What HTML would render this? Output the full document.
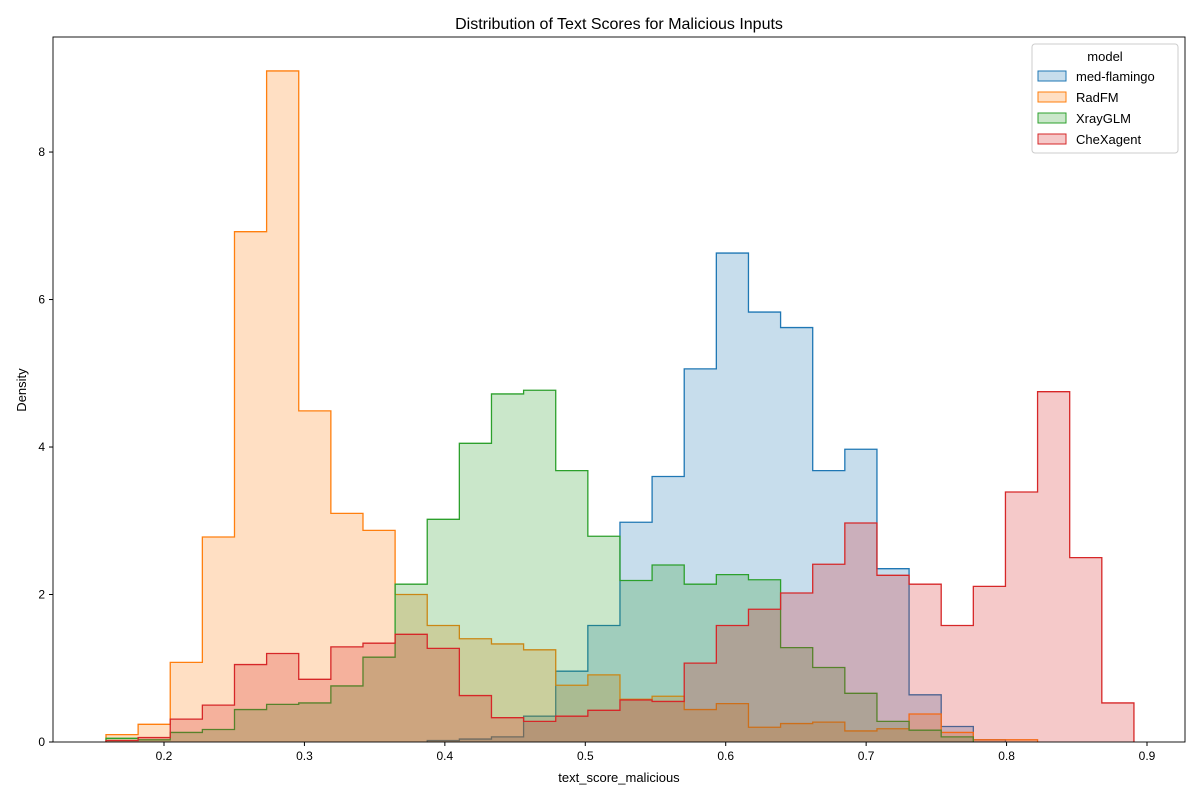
<!DOCTYPE html>
<html><head><meta charset="utf-8">
<style>
body{margin:0;background:#fff;font-family:"Liberation Sans","DejaVu Sans",sans-serif;}
svg text{font-family:"Liberation Sans","DejaVu Sans",sans-serif;fill:#000;}
</style></head>
<body>
<svg id="chart" width="1200" height="800">
  <rect x="0" y="0" width="1200" height="800" fill="#fff"/>
  <text x="619" y="29" font-size="16" text-anchor="middle">Distribution of Text Scores for Malicious Inputs</text>
  <g id="marks"></g>
  <g id="axes"></g>
  <text x="619" y="782" font-size="13" text-anchor="middle">text_score_malicious</text>
  <text x="26" y="390" font-size="13" text-anchor="middle" transform="rotate(-90 26 390)">Density</text>
  <g id="legend"></g>
</svg>
<script>
const binStart = 0.1587;
const binEnd = 0.8907;
const binCount = 32;
const models = ["med-flamingo","RadFM","XrayGLM","CheXagent"];
const colors = ["#1f77b4","#ff7f0e","#2ca02c","#d62728"];
const medFlamingo = [0,0,0,0,0,0,0,0,0,0,0.02,0.04,0.07,0.35,0.96,1.58,2.98,3.6,5.06,6.63,5.83,5.62,3.68,3.97,2.35,0.64,0.21,0.03,0,0,0,0];
const radFM = [0.1,0.24,1.08,2.78,6.92,9.1,4.49,3.1,2.87,2.0,1.58,1.4,1.33,1.25,0.77,0.91,0.58,0.62,0.44,0.52,0.2,0.25,0.27,0.15,0.18,0.38,0.13,0.03,0.03,0,0,0];
const xrayGLM = [0.05,0.03,0.13,0.17,0.44,0.51,0.53,0.76,1.15,2.14,3.02,4.05,4.72,4.77,3.68,2.79,2.19,2.4,2.14,2.27,2.2,1.28,1.01,0.66,0.28,0.16,0.07,0,0,0,0,0];
const cheXagent = [0.02,0.06,0.31,0.5,1.05,1.2,0.85,1.29,1.34,1.46,1.27,0.63,0.33,0.28,0.35,0.43,0.57,0.55,1.07,1.58,1.8,2.02,2.41,2.97,2.26,2.14,1.58,2.11,3.39,4.75,2.5,0.53];
const xTicks = [0.2,0.3,0.4,0.5,0.6,0.7,0.8,0.9];
const yTicks = [0,2,4,6,8];

const L=53,R=1185,T=37,B=742;
const xMin=0.12096,xMax=0.92706,yMin=0,yMax=9.56;
function xs(v){return L+(v-xMin)/(xMax-xMin)*(R-L);}
function ys(v){return B-(v-yMin)/(yMax-yMin)*(B-T);}
const NS="http://www.w3.org/2000/svg";
const series=[medFlamingo,radFM,xrayGLM,cheXagent];
const w=(binEnd-binStart)/binCount;
const marks=document.getElementById('marks');
series.forEach((vals,si)=>{
  let first=vals.findIndex(v=>v>0);
  let last=vals.length-1-[...vals].reverse().findIndex(v=>v>0);
  let d=`M${xs(binStart+first*w)},${ys(0)}`;
  for(let i=first;i<=last;i++){
    d+=` L${xs(binStart+i*w)},${ys(vals[i])} L${xs(binStart+(i+1)*w)},${ys(vals[i])}`;
  }
  d+=` L${xs(binStart+(last+1)*w)},${ys(0)}`;
  const fill=document.createElementNS(NS,'path');
  fill.setAttribute('d',d+' Z');
  fill.setAttribute('fill',colors[si]);
  fill.setAttribute('fill-opacity','0.25');
  fill.setAttribute('stroke','none');
  
  
  marks.appendChild(fill);
  const line=document.createElementNS(NS,'path');
  line.setAttribute('d',d);
  line.setAttribute('fill','none');
  line.setAttribute('stroke',colors[si]);
  line.setAttribute('stroke-width','1.3');
  
  
  marks.appendChild(line);
});
const axes=document.getElementById('axes');
let frame=document.createElementNS(NS,'rect');
frame.setAttribute('x',L);frame.setAttribute('y',T);frame.setAttribute('width',R-L);frame.setAttribute('height',B-T);
frame.setAttribute('fill','none');frame.setAttribute('stroke','#000');frame.setAttribute('stroke-width','0.9');


axes.appendChild(frame);
xTicks.forEach(t=>{
  const x=xs(t);
  const ln=document.createElementNS(NS,'line');
  ln.setAttribute('x1',x);ln.setAttribute('x2',x);ln.setAttribute('y1',B);ln.setAttribute('y2',B+4);ln.setAttribute('stroke','#000');
  
  
  axes.appendChild(ln);
  const tx=document.createElementNS(NS,'text');
  tx.setAttribute('x',x);tx.setAttribute('y',B+18);tx.setAttribute('font-size','12');tx.setAttribute('text-anchor','middle');
  tx.textContent=t.toFixed(1);
  
  
  axes.appendChild(tx);
});
yTicks.forEach(t=>{
  const y=ys(t);
  const ln=document.createElementNS(NS,'line');
  ln.setAttribute('x1',L-4);ln.setAttribute('x2',L);ln.setAttribute('y1',y);ln.setAttribute('y2',y);ln.setAttribute('stroke','#000');
  
  
  axes.appendChild(ln);
  const tx=document.createElementNS(NS,'text');
  tx.setAttribute('x',L-8);tx.setAttribute('y',y+4);tx.setAttribute('font-size','12');tx.setAttribute('text-anchor','end');
  tx.textContent=String(t);
  
  
  axes.appendChild(tx);
});
const lg=document.getElementById('legend');
lg.innerHTML='<rect x="1032" y="44" width="146" height="109" rx="3" fill="#fff" fill-opacity="0.8" stroke="#ccc"/>'+
 '<text x="1105" y="61" font-size="13" text-anchor="middle">model</text>';
models.forEach((m,i)=>{
  const y=71+i*21;
  const r=document.createElementNS(NS,'rect');
  r.setAttribute('x',1038);r.setAttribute('y',y);r.setAttribute('width',28);r.setAttribute('height',10);
  r.setAttribute('fill',colors[i]);r.setAttribute('fill-opacity','0.25');r.setAttribute('stroke',colors[i]);
  
  
  lg.appendChild(r);
  const t=document.createElementNS(NS,'text');
  t.setAttribute('x',1076);t.setAttribute('y',y+10);t.setAttribute('font-size','13');
  t.textContent=m;
  
  
  lg.appendChild(t);
});
</script>
</body></html>
